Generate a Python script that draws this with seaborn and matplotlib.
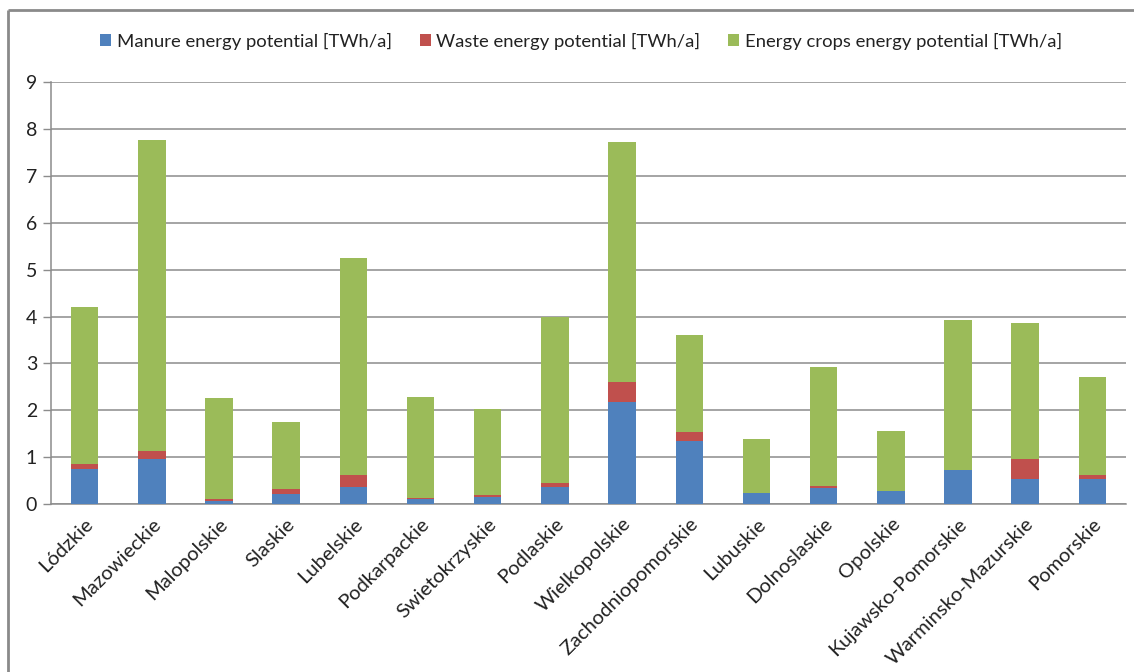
import numpy as np
import matplotlib
matplotlib.use("Agg")
import matplotlib.pyplot as plt
from matplotlib.lines import Line2D
from matplotlib.patches import Patch
import seaborn as sns

# Biogas energy potential by voivodeship [TWh/a]
regions = ["Lódzkie", "Mazowieckie", "Malopolskie", "Slaskie", "Lubelskie",
           "Podkarpackie", "Swietokrzyskie", "Podlaskie", "Wielkopolskie",
           "Zachodniopomorskie", "Lubuskie", "Dolnoslaskie", "Opolskie",
           "Kujawsko-Pomorskie", "Warminsko-Mazurskie", "Pomorskie"]
manure = [0.75, 0.97, 0.07, 0.22, 0.36, 0.10, 0.16, 0.36, 2.17, 1.34,
          0.23, 0.35, 0.28, 0.72, 0.53, 0.53]
waste = [0.11, 0.16, 0.03, 0.09, 0.25, 0.03, 0.03, 0.09, 0.43, 0.19,
         0.0, 0.04, 0.0, 0.01, 0.42, 0.08]
crops = [3.34, 6.63, 2.17, 1.43, 4.63, 2.16, 1.84, 3.54, 5.12, 2.07,
         1.15, 2.53, 1.27, 3.20, 2.91, 2.09]
series_names = ["Manure energy potential [TWh/a]",
                "Waste energy potential [TWh/a]",
                "Energy crops energy potential [TWh/a]"]
yticks = list(range(0, 10))

colors = ["#4F81BD", "#C0504D", "#9BBB59"]
grid_col = "#8C8C8C"

sns.set_theme(style="white")
plt.rcParams["font.family"] = ["Lato", "DejaVu Sans"]

fig = plt.figure(figsize=(11.34, 6.72), dpi=100)
fig.patch.set_linewidth(0)
ax = fig.add_axes([51 / 1134, 1 - 504 / 672, (1126 - 51) / 1134, (504 - 82.3) / 672])

m = np.array(manure)
w = np.array(waste)
c = np.array(crops)
bottoms = [np.zeros_like(m), m, m + w]
for vals, bot, col in zip([m, w, c], bottoms, colors):
    sns.barplot(x=regions, y=vals, bottom=bot, color=col, width=0.41,
                saturation=1, edgecolor="none", linewidth=0, ax=ax, zorder=3)

ax.set_xlim(-0.5, len(regions) - 0.5)
ax.set_ylim(0, 9)
ax.set_yticks(yticks)
ax.set_yticklabels([str(t) for t in yticks], fontsize=14, color="#222222")
ax.yaxis.grid(True, color=grid_col, linewidth=1.1, zorder=0)
ax.xaxis.grid(False)

ax.set_xticks(range(len(regions)))
ax.set_xticklabels(regions, rotation=45, ha="right", rotation_mode="anchor",
                   fontsize=14.5, color="#222222")
ax.set_xticks(np.arange(-0.5, len(regions), 1.0), minor=True)
ax.tick_params(axis="x", which="major", length=0, pad=8)
ax.tick_params(axis="x", which="minor", length=6, width=1, color=grid_col, direction="out")
ax.tick_params(axis="y", which="major", length=6, width=1, color=grid_col,
               direction="out", left=True, pad=4)

for side in ["top", "right"]:
    ax.spines[side].set_visible(False)
for side in ["left", "bottom"]:
    ax.spines[side].set_color(grid_col)
    ax.spines[side].set_linewidth(1.1)
ax.set_xlabel("")
ax.set_ylabel("")

handles = [Patch(facecolor=col, edgecolor="none") for col in colors]
fig.legend(handles, series_names, loc="center", bbox_to_anchor=(581 / 1134, 1 - 41 / 672),
           ncol=3, frameon=False, fontsize=13.3, handlelength=0.6, handleheight=0.6,
           handletextpad=0.3, columnspacing=1.5, labelcolor="#222222")

# chart-area frame: left and top edges
x0 = 8 / 1134
y0 = 1 - 10 / 672
fig.add_artist(Line2D([x0, x0], [0, y0], transform=fig.transFigure,
                      color="#8A8A8A", linewidth=2, solid_capstyle="butt"))
fig.add_artist(Line2D([x0, 1], [y0, y0], transform=fig.transFigure,
                      color="#8A8A8A", linewidth=2, solid_capstyle="butt"))

fig.savefig("out.png", dpi=100)
